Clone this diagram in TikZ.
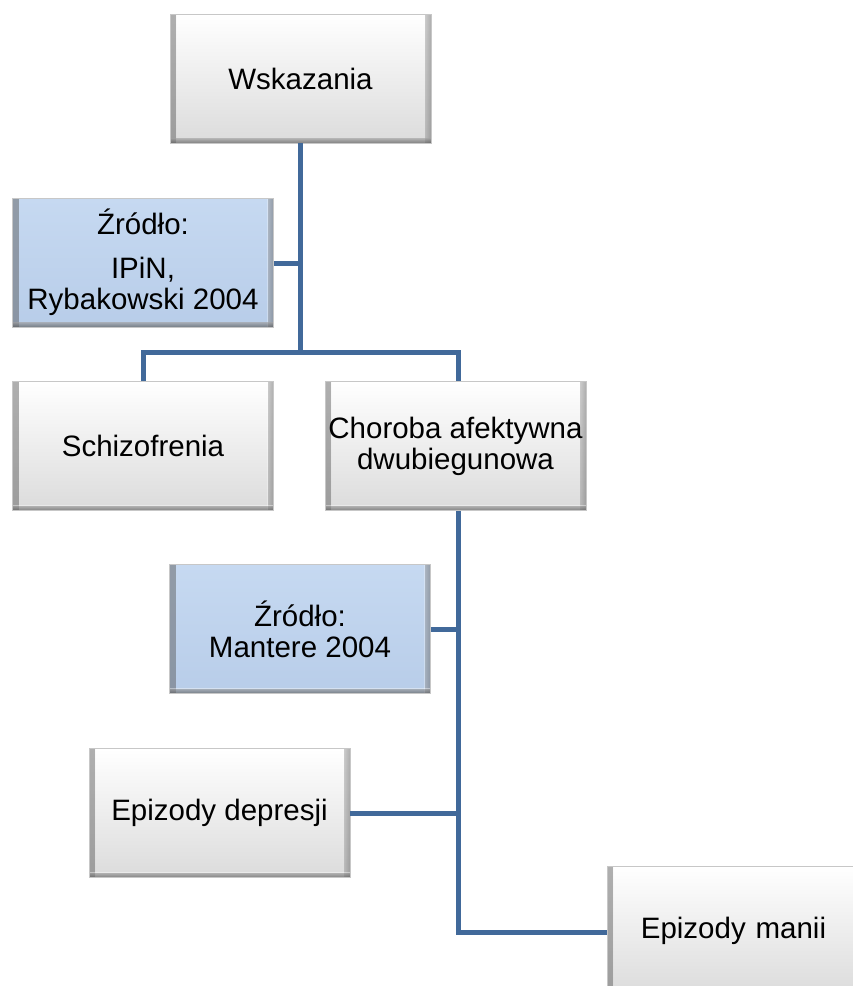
\documentclass[tikz,border=0pt]{standalone}
\usepackage{fontspec}
\setmainfont{Liberation Sans}
\definecolor{linkblue}{HTML}{41699A}
\definecolor{srcblue}{HTML}{C6D9F1}
\definecolor{srcblueb}{HTML}{B8CDE9}
\tikzset{
  boxbase/.style={minimum width=261pt, minimum height=129pt, inner sep=2pt,
    align=center, font=\fontsize{29.5}{31}\selectfont, draw=black!22, line width=0.8pt,
    path picture={
      \fill[left color=black!40, right color=white, opacity=0.28]
        (path picture bounding box.south west) rectangle ([xshift=6pt]path picture bounding box.north west);
      \fill[right color=black!40, left color=white, opacity=0.28]
        ([xshift=-6pt]path picture bounding box.south east) rectangle (path picture bounding box.north east);
      \fill[bottom color=black!50, top color=white, opacity=0.4]
        (path picture bounding box.south west) rectangle ([yshift=5pt]path picture bounding box.south east);
    }},
  greybox/.style={boxbase, top color=white, bottom color=black!14},
  bluebox/.style={boxbase, top color=srcblue, bottom color=srcblueb},
  link/.style={draw=linkblue, line width=5pt}
}
\begin{document}
\begin{tikzpicture}[x=1pt,y=-1pt]
\clip (0,0) rectangle (853,986);
\fill[white] (0,0) rectangle (853,986);
\useasboundingbox (0,0) rectangle (853,986);

% junction coordinates
\coordinate (j1) at (300,352);
\coordinate (j2) at (458,352);
\coordinate (t1) at (300,263);
\coordinate (t2) at (458,629);
\coordinate (t3) at (458,813);
\coordinate (t4) at (458,932);

\node[greybox] (w) at (300.5,78.5) {Wskazania};
\node[bluebox] (src1) at (143,262.5) {Źródło:\\[13pt]IPiN,\\Rybakowski 2004};
\node[greybox] (schizo) at (143,446) {Schizofrenia};
\node[greybox] (chor) at (455.5,446) {Choroba afektywna\\dwubiegunowa};
\node[bluebox] (src2) at (300,629) {Źródło:\\Mantere 2004};
\node[greybox] (dep) at (219.5,813) {Epizody depresji};
\node[greybox, text width=240pt] (man) at (737.5,930.5) {\hspace*{-8pt}Epizody manii};

\draw[link] (w.south -| j1) -- (j1);
\draw[link] (src1.east |- t1) -- (t1);
\draw[link] (schizo.north) -- (schizo.north |- j1) -- (j2) -- (j2 |- chor.north);
\draw[link] (chor.south -| t2) -- (t4) -- (man.west |- t4);
\draw[link] (src2.east |- t2) -- (t2);
\draw[link] (dep.east |- t3) -- (t3);
\end{tikzpicture}
\end{document}
